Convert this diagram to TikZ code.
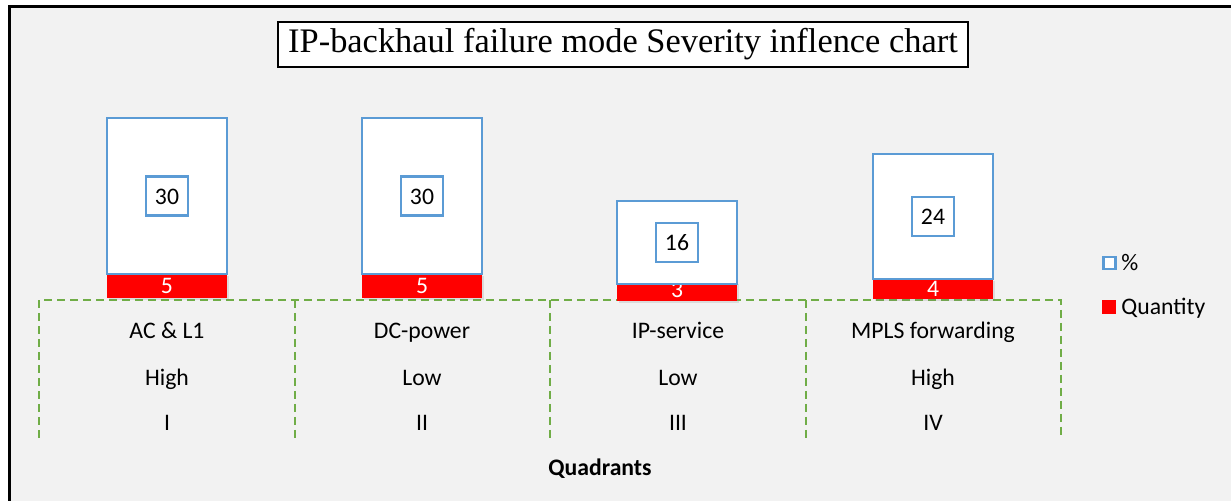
\documentclass[tikz,border=0pt]{standalone}
\usepackage{fontspec}
\setmainfont{Carlito}
\newfontfamily\titlefont{Liberation Serif}
\usetikzlibrary{shadows}
\definecolor{chartbg}{HTML}{F2F2F2}
\definecolor{pctblue}{HTML}{5B9BD5}
\definecolor{quadgreen}{HTML}{70AD47}
\tikzset{
  pctbar/.style={draw=pctblue,fill=white,line width=1.3pt,minimum width=60pt,inner sep=0pt},
  pctlabel/.style={draw=pctblue,fill=white,line width=1.3pt,minimum width=21pt,minimum height=19.5pt,inner sep=0pt,
    text height=8.5pt,text depth=0pt},
  qtybar/.style={fill=red,minimum width=60pt,inner sep=0pt,text=white,
    drop shadow={opacity=0.2,shadow xshift=0.8pt,shadow yshift=-1pt}},
  quadline/.style={draw=quadgreen,line width=1pt,dash pattern=on 4pt off 2.5pt},
  lbl/.style={inner sep=0pt,text height=8.5pt,text depth=1pt}
}
\begin{document}
\begin{tikzpicture}[x=0.5pt,y=-0.5pt,font=\fontsize{11.85}{14}\selectfont]
  \useasboundingbox[fill=white] (0,0) rectangle (1231,501);
  \fill[chartbg] (9.5,7) rectangle (1231,501);
  \draw[line width=1.5pt] (9.5,501) |- (1231,7);

  % title
  \node[draw,line width=1.1pt,fill=white,minimum width=345pt,minimum height=22.5pt,inner sep=0pt,
    font=\titlefont\fontsize{17.2}{20}\selectfont] (title) at (623,44.5) {IP-backhaul failure mode Severity inflence chart};

  % quadrant frame
  \draw[quadline] (39,438) -- (39,300) -- (1061,300) -- (1061,438);
  \draw[quadline] (294.5,300) -- (294.5,438);
  \draw[quadline] (550,300) -- (550,438);
  \draw[quadline] (805.5,300) -- (805.5,438);

  % bars
  \node[qtybar,minimum height=12pt] (q1) at (167,286) {5};
  \node[pctbar,minimum height=78pt] (p1) at (167,196) {};
  \node[pctlabel] (v1) at (p1.center) {30};

  \node[qtybar,minimum height=12pt] (q2) at (422,286) {5};
  \node[pctbar,minimum height=78pt] (p2) at (422,196) {};
  \node[pctlabel] (v2) at (p2.center) {30};

  \node[qtybar,minimum height=7.5pt,text depth=2pt] (q3) at (677,291.5) {3};
  \node[pctbar,minimum height=41.5pt] (p3) at (677,242.5) {};
  \node[pctlabel] (v3) at (p3.center) {16};

  \node[qtybar,minimum height=10pt] (q4) at (933,289) {4};
  \node[pctbar,minimum height=62.5pt] (p4) at (933,216.5) {};
  \node[pctlabel] (v4) at (p4.center) {24};

  % quadrant labels
  \node[lbl] (n1) at (167,331) {AC \& L1};
  \node[lbl] (s1) at (167,378) {High};
  \node[lbl] (r1) at (167,423) {I};
  \node[lbl] (n2) at (422,331) {DC-power};
  \node[lbl] (s2) at (422,378) {Low};
  \node[lbl] (r2) at (422,423) {II};
  \node[lbl] (n3) at (678,331) {IP-service};
  \node[lbl] (s3) at (678,378) {Low};
  \node[lbl] (r3) at (678,423) {III};
  \node[lbl] (n4) at (933,331) {MPLS forwarding};
  \node[lbl] (s4) at (933,378) {High};
  \node[lbl] (r4) at (933,423) {IV};

  \node[lbl,font=\fontsize{11.85}{14}\selectfont\bfseries] (axis) at (600,468) {Quadrants};

  % legend
  \node[draw=pctblue,fill=white,line width=1.2pt,minimum size=6pt,inner sep=0pt] (kp) at (1109.5,263) {};
  \node[lbl,anchor=west] (kpt) at (1121,263) {\%};
  \node[fill=red,minimum size=7pt,inner sep=0pt] (kq) at (1109,307) {};
  \node[lbl,anchor=west] (kqt) at (1121,307) {Quantity};
\end{tikzpicture}
\end{document}
